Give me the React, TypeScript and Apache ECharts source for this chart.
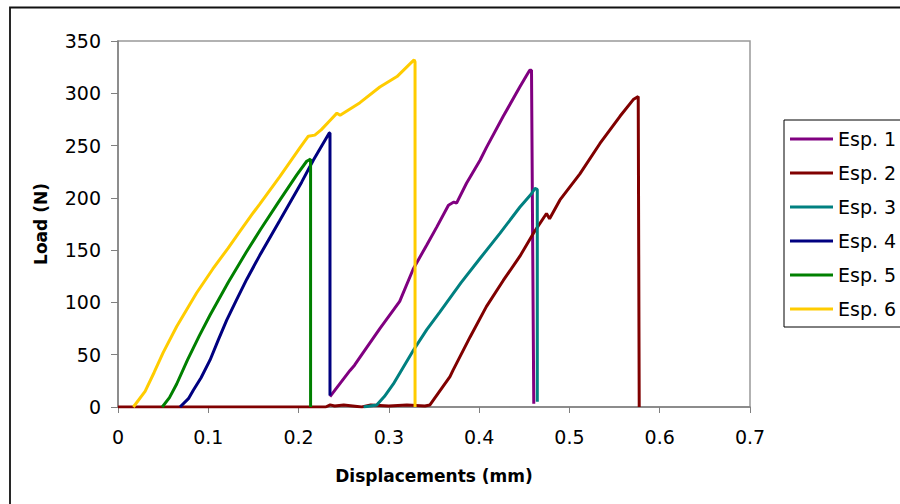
import React, { useEffect, useRef } from "react";
import * as echarts from "echarts";

const seriesNames = ["Esp. 1", "Esp. 2", "Esp. 3", "Esp. 4", "Esp. 5", "Esp. 6"];
const seriesColors = ["#800080", "#800000", "#008080", "#000080", "#008000", "#FFCC00"];

const esp1: number[][] = [
  [0.2348, 10], [0.257, 35], [0.262, 40], [0.27, 50], [0.29, 75], [0.312, 101], [0.327, 132],
  [0.342, 155], [0.353, 172], [0.366, 193], [0.372, 196], [0.375, 195], [0.386, 214],
  [0.401, 236], [0.408, 248], [0.4267, 278], [0.445, 306], [0.4525, 317], [0.456, 322],
  [0.458, 322], [0.4605, 3],
];
const esp2: number[][] = [
  [0, 0], [0.1, 0], [0.2, 0], [0.23, 0], [0.235, 2], [0.24, 1], [0.25, 2], [0.26, 1],
  [0.27, 0], [0.28, 2], [0.3, 1], [0.32, 2], [0.34, 1], [0.3455, 2], [0.3677, 29],
  [0.371, 35], [0.39, 67], [0.408, 96], [0.4267, 121], [0.445, 144], [0.46, 166],
  [0.4746, 185], [0.478, 180], [0.4895, 198], [0.5116, 223], [0.5338, 252], [0.556, 278],
  [0.5707, 294], [0.5762, 297], [0.5773, 0],
];
const esp3: number[][] = [
  [0.272, 0], [0.2865, 2], [0.295, 10], [0.305, 22], [0.327, 54], [0.342, 74], [0.3566, 91],
  [0.38, 119], [0.4009, 142], [0.423, 166], [0.445, 191], [0.458, 204], [0.4618, 209],
  [0.4644, 208], [0.4644, 5],
];
const esp4: number[][] = [
  [0.0687, 0], [0.078, 8], [0.0834, 16], [0.092, 28], [0.102, 45], [0.111, 64], [0.1204, 83],
  [0.131, 102], [0.1425, 122], [0.157, 145], [0.179, 178], [0.2034, 215], [0.2163, 236],
  [0.234, 262], [0.2348, 262], [0.2348, 11],
];
const esp5: number[][] = [
  [0.049, 0], [0.057, 9], [0.065, 22], [0.077, 45], [0.09, 68], [0.102, 88], [0.122, 119],
  [0.142, 148], [0.158, 170], [0.177, 195], [0.198, 222], [0.209, 235], [0.2133, 237], [0.2133, 0],
];
const esp6: number[][] = [
  [0.017, 0], [0.03, 15], [0.04, 33], [0.05, 52], [0.065, 77], [0.087, 109], [0.105, 132],
  [0.122, 152], [0.135, 168], [0.15, 186], [0.157, 194], [0.179, 220], [0.2016, 248],
  [0.2108, 259], [0.218, 260], [0.225, 265], [0.2348, 274], [0.2425, 281], [0.246, 279],
  [0.268, 291], [0.29, 306], [0.309, 316], [0.3256, 330], [0.328, 332], [0.329, 330], [0.329, 0],
];
const seriesData = [esp1, esp2, esp3, esp4, esp5, esp6];

const xTicks = { min: 0, max: 0.7, interval: 0.1 };
const yTicks = { min: 0, max: 350, interval: 50 };

const FONT = "DejaVu Sans";

export default function App() {
  const ref = useRef<HTMLDivElement>(null);
  useEffect(() => {
    if (!ref.current) return;
    const chart = echarts.init(ref.current, null, { renderer: "svg" });
    chart.setOption({
      animation: false,
      backgroundColor: "#fff",
      graphic: [
        {
          type: "rect",
          shape: { x: 10, y: 7.5, width: 960, height: 600 },
          style: { fill: "none", stroke: "#111", lineWidth: 1.8 },
          silent: true,
          z: -10,
        },
      ],
      grid: {
        left: 118,
        top: 41,
        width: 632,
        height: 366,
        show: true,
        borderColor: "#999",
        borderWidth: 1.5,
        backgroundColor: "transparent",
      },
      legend: {
        orient: "vertical",
        left: 784,
        top: 120,
        padding: [9, 30, 8, 6],
        itemGap: 14,
        itemWidth: 43,
        itemHeight: 3,
        icon: "rect",
        borderColor: "#000",
        borderWidth: 1,
        backgroundColor: "#fff",
        textStyle: { fontFamily: FONT, fontSize: 19, color: "#000", lineHeight: 20 },
        data: seriesNames,
      },
      xAxis: {
        type: "value",
        min: xTicks.min,
        max: xTicks.max,
        interval: xTicks.interval,
        name: "Displacements (mm)",
        nameLocation: "middle",
        nameGap: 60,
        nameTextStyle: { fontFamily: FONT, fontSize: 17, fontWeight: "bold", color: "#000" },
        axisLine: { show: true, lineStyle: { color: "#808080", width: 1.5 } },
        axisTick: { show: true, length: 6, lineStyle: { color: "#808080" } },
        axisLabel: { fontFamily: FONT, fontSize: 19, color: "#000", margin: 20 },
        splitLine: { show: false },
      },
      yAxis: {
        type: "value",
        min: yTicks.min,
        max: yTicks.max,
        interval: yTicks.interval,
        name: "Load (N)",
        nameLocation: "middle",
        nameGap: 69,
        nameRotate: 90,
        nameTextStyle: { fontFamily: FONT, fontSize: 17, fontWeight: "bold", color: "#000" },
        axisLine: { show: true, lineStyle: { color: "#808080", width: 1.5 } },
        axisTick: { show: true, length: 7, lineStyle: { color: "#808080" } },
        axisLabel: { fontFamily: FONT, fontSize: 19, color: "#000", margin: 17 },
        splitLine: { show: false },
      },
      series: seriesNames.map((name, i) => ({
        name,
        type: "line",
        data: seriesData[i],
        showSymbol: false,
        symbol: "none",
        smooth: false,
        lineStyle: { color: seriesColors[i], width: 3 },
        itemStyle: { color: seriesColors[i] },
        z: 2 + i,
      })),
    });
    return () => chart.dispose();
  }, []);
  return (
    <div
      ref={ref}
      style={{ position: "fixed", left: 0, top: 0, width: 900, height: 504 }}
    />
  );
}
